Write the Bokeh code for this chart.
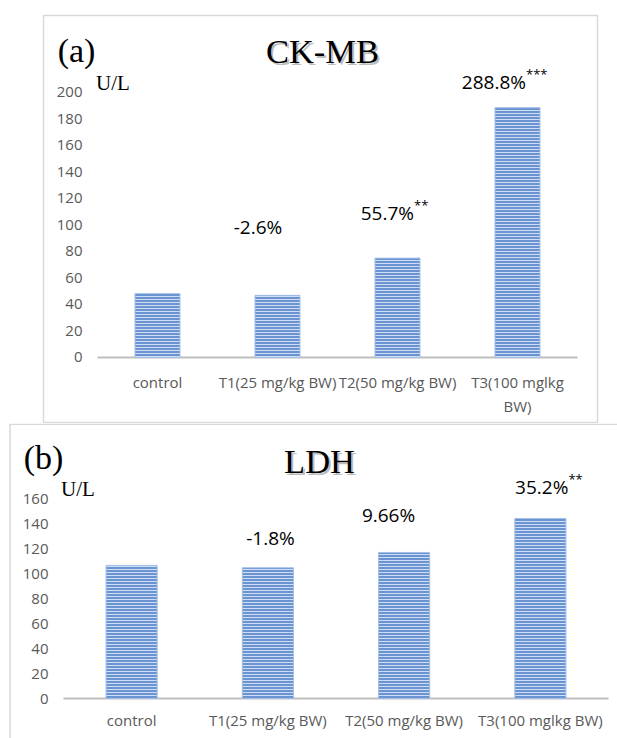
from bokeh.plotting import figure
from bokeh.models import FixedTicker, Range1d, Label, ColumnDataSource, BoxAnnotation
from bokeh.embed import file_html
from bokeh.resources import INLINE
from bokeh.core.properties import value

# ---------------- data ----------------
categories = ["control", "T1(25 mg/kg BW)", "T2(50 mg/kg BW)", "T3(100 mglkg BW)"]
ckmb_tick_labels = ["control", "T1(25 mg/kg BW)", "T2(50 mg/kg BW)", "T3(100 mglkg\nBW)"]
ldh_tick_labels = ["control", "T1(25 mg/kg BW)", "T2(50 mg/kg BW)", "T3(100 mglkg BW)"]
ckmb_values = [48.2, 46.9, 75.0, 188.5]
ldh_values = [107.0, 105.1, 117.4, 144.7]
ckmb_labels = ["", "-2.6%", "55.7%", "288.8%"]
ckmb_stars = ["", "", "**", "***"]
ldh_labels = ["", "-1.8%", "9.66%", "35.2%"]
ldh_stars = ["", "", "", "**"]
ckmb_ticks = [0, 20, 40, 60, 80, 100, 120, 140, 160, 180, 200]
ldh_ticks = [0, 20, 40, 60, 80, 100, 120, 140, 160]

SANS = "Open Sans"
SERIF = "Liberation Serif"
GREY = "#595959"
BORDER = "#d9d9d9"

n = len(categories)
xpos = [i + 0.5 for i in range(n)]   # category centres on the x scale


def style_axis(ax, standoff):
    ax.axis_line_color = None
    ax.major_tick_line_color = None
    ax.minor_tick_line_color = None
    ax.major_tick_out = 0
    ax.major_tick_in = 0
    ax.minor_tick_out = 0
    ax.minor_tick_in = 0
    ax.major_label_text_font = SANS
    ax.major_label_text_font_size = "15px"
    ax.major_label_text_color = GREY
    ax.major_label_standoff = standoff


def panel(values, labels, stars, ticks, tick_labels, xr, yr, width, height, borders,
          lab_dx, lab_dy, lab_align, title, tag, title_xy, tag_xy, unit_xy,
          x_standoff, y_standoff, outline=True):
    p = figure(x_range=Range1d(*xr), y_range=Range1d(*yr),
               width=width, height=height, output_backend="svg", toolbar_location=None,
               min_border_left=borders[0], min_border_right=borders[1],
               min_border_top=borders[2], min_border_bottom=borders[3])
    p.background_fill_color = "white"
    p.border_fill_color = "white"
    p.outline_line_color = BORDER if outline else None
    p.outline_line_width = 1.5
    p.grid.visible = False

    src = ColumnDataSource(dict(x=xpos, cat=categories, val=values, lab=labels,
                                stars=stars, dx=lab_dx, dy=lab_dy,
                                sdy=[d - 8 for d in lab_dy], align=lab_align))
    # category baseline (the chart's horizontal axis line)
    p.segment(x0=0, x1=n, y0=0, y1=0, line_color="#bfbfbf", line_width=2)
    p.vbar(x="x", top="val", width=0.375, source=src, fill_color="#6a93d2",
           line_color="#a3bfe8", line_width=1,
           hatch_pattern="horizontal_line", hatch_color="#cfdef4",
           hatch_scale=3.0, hatch_weight=1.0)

    p.text(x="x", y="val", text="lab", source=src, x_offset="dx", y_offset="dy",
           text_align="align", text_baseline="middle", text_color="black",
           text_font=value(SANS), text_font_size="19px")
    p.text(x="x", y="val", text="stars", source=src, x_offset="dx", y_offset="sdy",
           text_align="left", text_baseline="middle", text_color="black",
           text_font=value(SANS), text_font_size="13px")

    xa = p.xaxis[0]
    xa.ticker = FixedTicker(ticks=xpos)
    xa.major_label_overrides = {x: t for x, t in zip(xpos, tick_labels)}
    style_axis(xa, x_standoff)

    ya = p.yaxis[0]
    ya.ticker = FixedTicker(ticks=ticks)
    style_axis(ya, y_standoff)

    # titles
    p.add_layout(Label(x=title_xy[0], y=title_xy[1], text=title, x_offset=2, y_offset=-2,
                       text_font=SERIF, text_font_size="34.5px", text_color="#bdbdbd",
                       text_align="center", text_baseline="middle"))
    p.add_layout(Label(x=title_xy[0], y=title_xy[1], text=title,
                       text_font=SERIF, text_font_size="34.5px", text_color="black",
                       text_align="center", text_baseline="middle"))
    p.add_layout(Label(x=tag_xy[0], y=tag_xy[1], text=tag,
                       text_font=SERIF, text_font_size="34px", text_color="black",
                       text_align="center", text_baseline="middle"))
    p.add_layout(Label(x=unit_xy[0], y=unit_xy[1], text="U/L",
                       text_font=SERIF, text_font_size="21px", text_color="black",
                       text_align="center", text_baseline="middle"))
    return p


pa = panel(ckmb_values, ckmb_labels, ckmb_stars, ckmb_ticks, ckmb_tick_labels,
           (-0.45, 4.1667), (-49.06, 258.1), 617, 423, (43, 20, 15, 1),
           [0, -19.5, 16.5, 8.5], [0, -68, -45, -26],
           ["center", "center", "right", "right"],
           "CK-MB", "(a)", (1.875, 231), (-0.175, 231.7), (0.129, 206.8),
           -51, -39)

xr_b = (-0.40367, 4.066)
yr_b = (-32.15, 221.06)
pb = panel(ldh_values, ldh_labels, ldh_stars, ldh_ticks, ldh_tick_labels,
           xr_b, yr_b, 617, 315, (8, 0, 0, 0),
           [0, 2.6, -15.6, 28], [0, -30, -37, -31],
           ["center", "center", "center", "right"],
           "LDH", "(b)", (1.879, 191.3), (-0.147, 193.7), (0.106, 168.8),
           -29, -40, outline=False)
# panel (b) frame: only its top and left edges fall inside the picture
px_x = 136.25   # pixels per category unit
px_y = 1.244    # pixels per U/L unit
pb.add_layout(BoxAnnotation(left=xr_b[0] + 1.5 / px_x, right=xr_b[1] + 1.0,
                            top=yr_b[1] - 0.75 / px_y, bottom=yr_b[0] - 20.0,
                            fill_alpha=0, line_color=BORDER, line_alpha=1.0,
                            line_width=1.5))

open("out.html", "w").write(file_html([pa, pb], INLINE))
